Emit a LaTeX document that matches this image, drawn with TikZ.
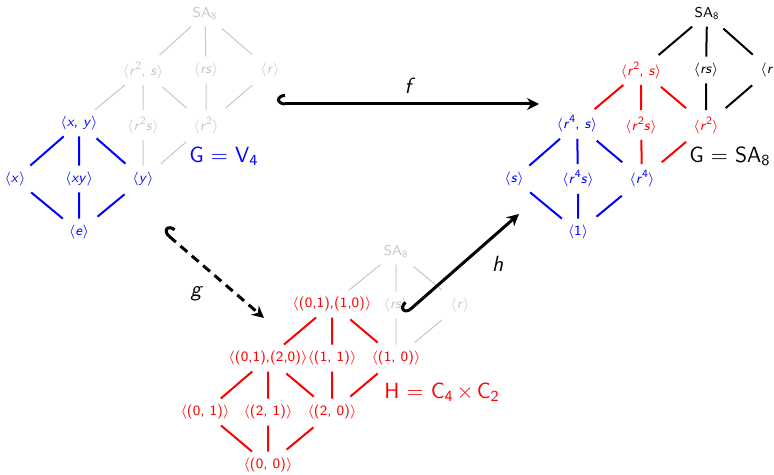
\documentclass[tikz,border=0pt]{standalone}
\usepackage{amsmath}
\usepackage{amssymb}
\usepackage{tikz}
\usepackage{xcolor}
\usetikzlibrary{arrows.meta}

\definecolor{latgray}{gray}{0.78}
\newcommand{\subgr}[1]{$\langle$#1$\rangle$}
\newcommand{\elm}[1]{\textit{#1}}
\newcommand{\pw}[1]{\raisebox{0.42em}{\fontsize{5.6}{6}\selectfont #1}}
\newcommand{\grp}[2]{#1$_{\textsf{#2}}$}

\begin{document}
\begin{tikzpicture}[x=0.5pt,y=-0.5pt,
    sub/.style={font=\sffamily\fontsize{7.1}{8.5}\selectfont, inner sep=3pt},
    faint/.style={draw=latgray, line width=0.5pt, shorten <=1.5pt, shorten >=1.5pt},
    blueline/.style={draw=blue, line width=1pt, shorten <=1.5pt, shorten >=1.5pt},
    redline/.style={draw=red, line width=1pt, shorten <=1.5pt, shorten >=1.5pt},
    blackline/.style={draw=black, line width=1pt, shorten <=1.5pt, shorten >=1.5pt},
    grouplabel/.style={font=\sffamily\fontsize{11}{13}\selectfont},
    maplabel/.style={font=\sffamily\itshape\fontsize{11}{13}\selectfont},
    embed/.style={line width=1.5pt, {Hooks[right,length=4pt,width=10pt]}-{Stealth[length=6pt,width=6pt,inset=2pt]}}]
\useasboundingbox (0,0) rectangle (774,475);

% lattice of G = V4 (left)
\node[sub, text=latgray] (Lt)  at (205,14)  {\grp{SA}{8}};
\node[sub, text=latgray] (La1) at (143,70)  {\subgr{\elm{r}\pw{2}, \elm{s}}};
\node[sub, text=latgray] (La2) at (206,70)  {\subgr{\elm{rs}}};
\node[sub, text=latgray] (La3) at (270,70)  {\subgr{\elm{r}}};
\node[sub, text=blue]    (Lb1) at (79,123)  {\subgr{\elm{x}, \elm{y}}};
\node[sub, text=latgray] (Lb2) at (143,125) {\subgr{\elm{r}\pw{2}\elm{s}}};
\node[sub, text=latgray] (Lb3) at (206,125) {\subgr{\elm{r}\pw{2}}};
\node[sub, text=blue]    (Lc1) at (15,179)  {\subgr{\elm{x}}};
\node[sub, text=blue]    (Lc2) at (79,179)  {\subgr{\elm{xy}}};
\node[sub, text=blue]    (Lc3) at (143,179) {\subgr{\elm{y}}};
\node[sub, text=blue]    (Ld)  at (79,232)  {\subgr{\elm{e}}};
\node[grouplabel, text=blue] (Lname) at (224,156) {G $=$ \grp{V}{4}};

\draw[faint] (Lt) -- (La1) (Lt) -- (La2) (Lt) -- (La3);
\draw[faint] (La1) -- (Lb1) (La1) -- (Lb2) (La1) -- (Lb3);
\draw[faint] (La2) -- (Lb3) (La3) -- (Lb3);
\draw[faint] (Lb2) -- (Lc3) (Lb3) -- (Lc3);
\draw[blueline] (Lb1) -- (Lc1) (Lb1) -- (Lc2) (Lb1) -- (Lc3);
\draw[blueline] (Lc1) -- (Ld) (Lc2) -- (Ld) (Lc3) -- (Ld);

% lattice of G = SA8 (right)
\node[sub, text=black] (Rt)  at (707,14)  {\grp{SA}{8}};
\node[sub, text=red]   (Ra1) at (641,70)  {\subgr{\elm{r}\pw{2}, \elm{s}}};
\node[sub, text=black] (Ra2) at (706,70)  {\subgr{\elm{rs}}};
\node[sub, text=black] (Ra3) at (770,70)  {\subgr{\elm{r}}};
\node[sub, text=blue]  (Rb1) at (577,124) {\subgr{\elm{r}\pw{4}, \elm{s}}};
\node[sub, text=red]   (Rb2) at (641,125) {\subgr{\elm{r}\pw{2}\elm{s}}};
\node[sub, text=red]   (Rb3) at (706,125) {\subgr{\elm{r}\pw{2}}};
\node[sub, text=blue]  (Rc1) at (514,179) {\subgr{\elm{s}}};
\node[sub, text=blue]  (Rc2) at (578,179) {\subgr{\elm{r}\pw{4}\elm{s}}};
\node[sub, text=blue]  (Rc3) at (642,179) {\subgr{\elm{r}\pw{4}}};
\node[sub, text=blue]  (Rd)  at (578,232) {\subgr{1}};
\node[grouplabel, text=black] (Rname) at (730,156) {G $=$ \grp{SA}{8}};

\draw[blackline] (Rt) -- (Ra1) (Rt) -- (Ra2) (Rt) -- (Ra3);
\draw[blackline] (Ra2) -- (Rb3) (Ra3) -- (Rb3);
\draw[redline] (Ra1) -- (Rb1) (Ra1) -- (Rb2) (Ra1) -- (Rb3);
\draw[redline] (Rb2) -- (Rc3) (Rb3) -- (Rc3);
\draw[blueline] (Rb1) -- (Rc1) (Rb1) -- (Rc2) (Rb1) -- (Rc3);
\draw[blueline] (Rc1) -- (Rd) (Rc2) -- (Rd) (Rc3) -- (Rd);

% lattice of H = C4 x C2 (bottom)
\node[sub, text=latgray] (Bt)  at (396,252) {\grp{SA}{8}};
\node[sub, text=red]     (Ba1) at (332,304) {\subgr{(0,1),(1,0)}};
\node[sub, text=latgray] (Ba2) at (396,305) {\subgr{\elm{rs}}};
\node[sub, text=latgray] (Ba3) at (460,305) {\subgr{\elm{r}}};
\node[sub, text=red]     (Bb1) at (268,358) {\subgr{(0,1),(2,0)}};
\node[sub, text=red]     (Bb2) at (332,358) {\subgr{(1, 1)}};
\node[sub, text=red]     (Bb3) at (396,358) {\subgr{(1, 0)}};
\node[sub, text=red]     (Bc1) at (205,412) {\subgr{(0, 1)}};
\node[sub, text=red]     (Bc2) at (268,412) {\subgr{(2, 1)}};
\node[sub, text=red]     (Bc3) at (332,412) {\subgr{(2, 0)}};
\node[sub, text=red]     (Bd)  at (268,465) {\subgr{(0, 0)}};
\node[grouplabel, text=red] (Bname) at (442,392) {H $=$ \grp{C}{4}\hspace{1.5pt}$\times$\hspace{1.5pt}\grp{C}{2}};

\draw[faint] (Bt) -- (Ba1) (Bt) -- (Ba2) (Bt) -- (Ba3);
\draw[faint] (Ba2) -- (Bb3) (Ba3) -- (Bb3);
\draw[redline] (Ba1) -- (Bb1) (Ba1) -- (Bb2) (Ba1) -- (Bb3);
\draw[redline] (Bb1) -- (Bc1) (Bb1) -- (Bc2) (Bb1) -- (Bc3);
\draw[redline] (Bb2) -- (Bc3) (Bb3) -- (Bc3);
\draw[redline] (Bc1) -- (Bd) (Bc2) -- (Bd) (Bc3) -- (Bd);

% embeddings
\coordinate (fstart) at (277,104);
\coordinate (fend)   at (539,104);
\coordinate (gstart) at (163,231);
\coordinate (gend)   at (264,318);
\coordinate (hstart) at (405,314);
\coordinate (hend)   at (519,214);

\draw[embed] (fstart) -- node[maplabel, above=1pt] (flabel) {f} (fend);
\draw[embed, dash pattern=on 4.5pt off 3pt] (gstart) -- node[maplabel, below left=2pt] (glabel) {g} (gend);
\draw[embed] (hstart) -- node[maplabel, right=11pt] (hlabel) {h} (hend);
\end{tikzpicture}
\end{document}
